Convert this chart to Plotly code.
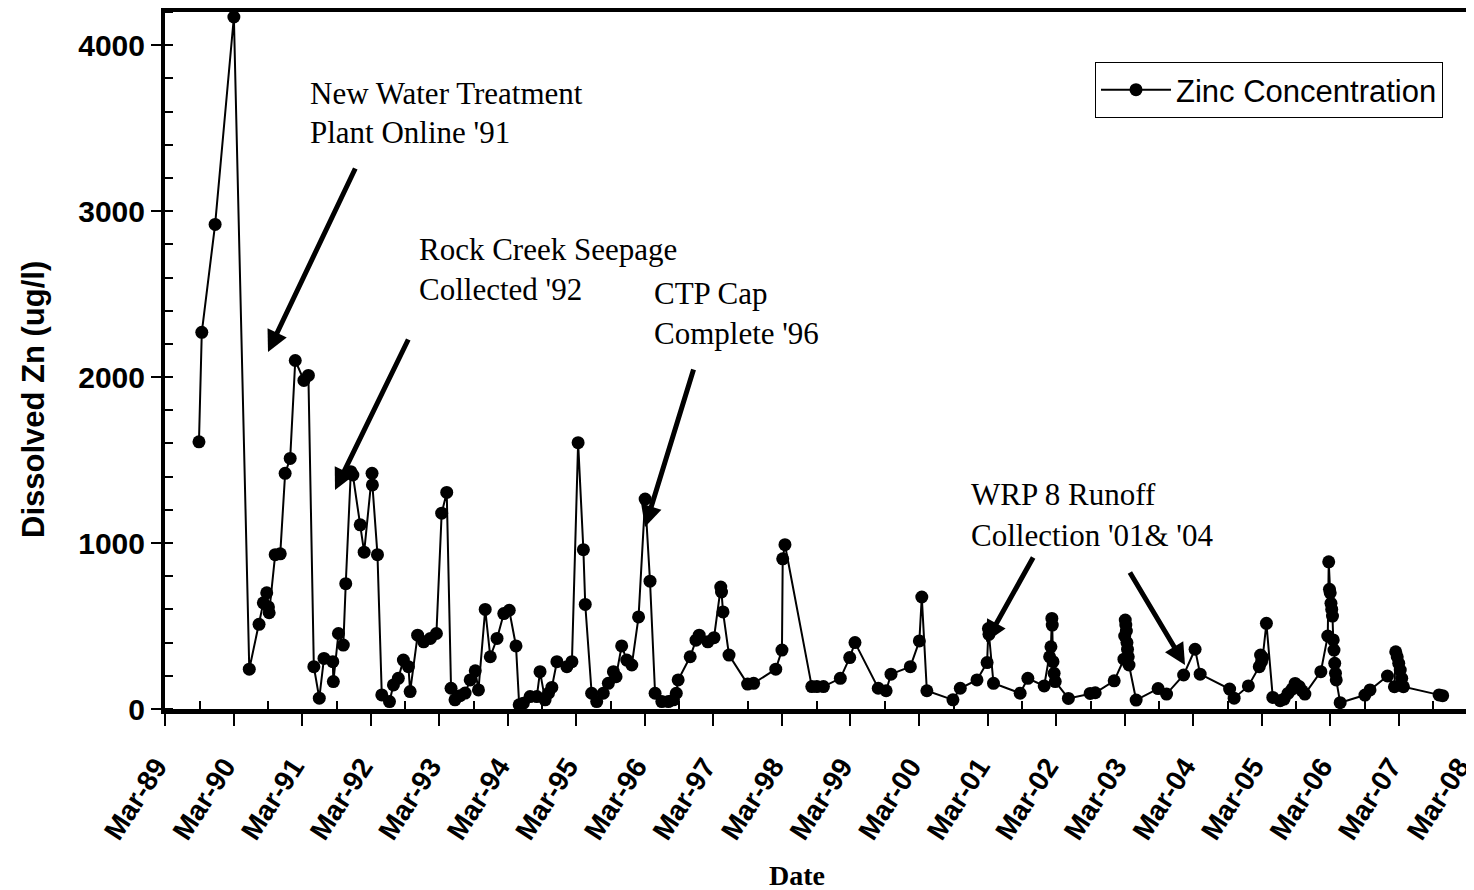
import plotly.graph_objects as go

sample_dates = [
"1989-08-29","1989-09-13","1989-11-23","1990-03-03","1990-05-24","1990-07-15","1990-08-07","1990-08-25","1990-09-03","1990-09-07",
"1990-10-09","1990-11-05","1990-12-01","1990-12-28","1991-01-24","1991-03-11","1991-04-04","1991-05-03","1991-06-01","1991-06-26",
"1991-08-12","1991-08-15","1991-09-11","1991-10-07","1991-10-20","1991-11-16","1991-11-27","1992-01-05","1992-01-26","1992-03-08",
"1992-03-10","1992-04-06","1992-04-29","1992-06-09","1992-06-30","1992-07-26","1992-08-22","1992-09-18","1992-09-27","1992-11-06",
"1992-12-08","1993-01-13","1993-02-14","1993-03-14","1993-04-10","1993-05-03","1993-05-24","1993-06-20","1993-07-17","1993-08-13",
"1993-09-09","1993-09-26","1993-11-01","1993-11-28","1994-01-03","1994-02-08","1994-03-09","1994-04-14","1994-05-01","1994-05-23",
"1994-06-28","1994-08-03","1994-08-20","1994-09-16","1994-10-04","1994-10-22","1994-11-18","1995-01-10","1995-02-06","1995-03-11",
"1995-04-08","1995-04-18","1995-05-22","1995-06-18","1995-07-23","1995-08-19","1995-09-15","1995-09-29","1995-10-29","1995-11-25",
"1995-12-22","1996-01-27","1996-03-02","1996-03-28","1996-04-24","1996-05-30","1996-07-04","1996-07-31","1996-08-15","1996-08-25",
"1996-10-28","1996-11-28","1996-12-15","1997-01-30","1997-03-04","1997-04-09","1997-04-13","1997-04-21","1997-05-23","1997-08-30",
"1997-10-01","1998-01-27","1998-03-01","1998-03-05","1998-03-17","1998-08-07","1998-09-03","1998-10-08","1999-01-06","1999-02-25",
"1999-03-25","1999-07-27","1999-09-07","1999-10-03","2000-01-14","2000-03-02","2000-03-15","2000-04-11","2000-08-28","2000-10-06",
"2001-01-03","2001-02-26","2001-03-05","2001-03-08","2001-04-01","2001-08-21","2001-10-01","2001-12-27","2002-01-25","2002-02-01",
"2002-02-06","2002-02-08","2002-02-12","2002-02-18","2002-02-24","2002-05-05","2002-08-29","2002-09-25","2003-01-04","2003-02-25",
"2003-03-01","2003-03-04","2003-03-07","2003-03-10","2003-03-13","2003-03-16","2003-03-20","2003-03-24","2003-05-01","2003-08-26",
"2003-10-10","2004-01-09","2004-03-10","2004-04-06","2004-09-10","2004-10-04","2004-12-19","2005-02-15","2005-02-22","2005-02-27",
"2005-03-05","2005-03-25","2005-04-28","2005-06-06","2005-06-27","2005-07-18","2005-08-09","2005-08-25","2005-09-16","2005-10-01",
"2005-10-16","2006-01-09","2006-02-15","2006-02-20","2006-02-24","2006-02-28","2006-03-04","2006-03-08","2006-03-12","2006-03-16",
"2006-03-20","2006-03-24","2006-03-28","2006-04-01","2006-04-22","2006-09-01","2006-09-28","2006-12-30","2007-02-05","2007-02-12",
"2007-02-20","2007-02-28","2007-03-08","2007-03-16","2007-03-25","2007-10-01","2007-10-20",
]

zinc_values = [
1610, 2270, 2920, 4170, 240, 510, 640, 700, 615, 580,
930, 935, 1420, 1510, 2100, 1980, 2010, 255, 65, 305,
285, 165, 455, 385, 755, 1430, 1410, 1110, 945, 1420,
1350, 930, 85, 45, 145, 185, 295, 255, 105, 445,
405, 425, 455, 1180, 1305, 125, 55, 80, 96, 175,
230, 115, 600, 315, 425, 575, 595, 380, 25, 35,
75, 75, 225, 55, 95, 130, 285, 255, 285, 1605,
960, 630, 95, 45, 95, 155, 225, 195, 380, 295,
265, 555, 1265, 770, 95, 45, 45, 55, 95, 175,
315, 415, 445, 405, 430, 735, 705, 585, 325, 150,
155, 240, 355, 905, 990, 135, 135, 135, 185, 310,
400, 125, 110, 210, 255, 410, 675, 110, 55, 125,
175, 280, 485, 450, 155, 95, 185, 139, 315, 375,
546, 506, 285, 215, 165, 64, 94, 98, 170, 300,
440, 536, 506, 470, 400, 360, 315, 265, 54, 123,
90, 205, 360, 210, 120, 65, 139, 255, 325, 285,
310, 516, 70, 50, 60, 94, 120, 154, 135, 110,
90, 225, 440, 887, 721, 700, 637, 600, 560, 416,
355, 275, 215, 175, 38, 84, 115, 199, 134, 345,
315, 275, 235, 185, 134, 85, 80,
]

tick_dates = ["%d-03-01" % y for y in range(1989, 2009)]
tick_labels = ["Mar-%02d" % (y % 100) for y in range(1989, 2009)]
minor_dates = ["%d-09-01" % y for y in range(1989, 2008)]

y_ticks = [0, 1000, 2000, 3000, 4000]

notes = [
    ("New Water Treatment", 308, 93),
    ("Plant Online '91", 308, 133),
    ("Rock Creek Seepage", 417, 249),
    ("Collected '92", 417, 290),
    ("CTP Cap", 652, 293),
    ("Complete '96", 652, 333),
    ("WRP 8 Runoff", 969, 494),
    ("Collection '01& '04", 969, 535),
]
# arrows: head pixel, tail pixel (page coordinates)
arrows = [
    ((268, 352), (356, 167)),
    ((335, 490), (409, 338)),
    ((645, 527), (694, 368)),
    ((986, 642), (1034, 556)),
    ((1185, 665), (1129, 571)),
]

# the page body has an 8px margin; the figure is sized to fill the rest
OFF = 8
W, H = 1474 - OFF, 890 - OFF
L, R, T, B = 165 - OFF, 0, 12 - OFF, 890 - 709
PW = W - L - R
PH = H - T - B

def px2paper(px, py):
    return (px - 165) / PW, (709 - py) / PH

fig = go.Figure()
fig.add_trace(go.Scatter(
    x=sample_dates, y=zinc_values, mode="lines+markers",
    name="Zinc Concentration",
    line=dict(color="black", width=2),
    marker=dict(color="black", size=13),
))

ann = []
for text, px, py in notes:
    x, y = px2paper(px, py)
    ann.append(dict(text=text, x=x, y=y, xref="paper", yref="paper",
                    xanchor="left", yanchor="middle", showarrow=False,
                    font=dict(family="Liberation Serif", size=31, color="black")))
for (hx, hy), (tx, ty) in arrows:
    x, y = px2paper(hx, hy)
    ann.append(dict(text="", x=x, y=y, xref="paper", yref="paper",
                    ax=tx - hx, ay=ty - hy, showarrow=True, arrowhead=2,
                    arrowsize=0.85, arrowwidth=5, arrowcolor="black", standoff=0))
x, y = px2paper(797, 876)
ann.append(dict(text="<b>Date</b>", x=x, y=y, xref="paper", yref="paper",
                xanchor="center", yanchor="middle", showarrow=False,
                font=dict(family="Liberation Serif", size=28, color="black")))
x, y = px2paper(33, 400)
ann.append(dict(text="<b>Dissolved Zn (ug/l)</b>", x=x, y=y, xref="paper", yref="paper",
                xanchor="center", yanchor="middle", showarrow=False, textangle=-90,
                font=dict(family="Liberation Sans", size=31, color="black")))

lx, ly = px2paper(1095, 62)
fig.update_layout(
    width=W, height=H,
    margin=dict(l=L, r=R, t=T, b=B, autoexpand=False),
    paper_bgcolor="white", plot_bgcolor="white",
    showlegend=True,
    legend=dict(x=lx, y=ly, xanchor="left", yanchor="top",
                bordercolor="black", borderwidth=1, bgcolor="white",
                font=dict(family="Liberation Sans", size=31, color="black"),
                itemwidth=70, tracegroupgap=0),
    annotations=ann,
    xaxis=dict(
        type="date", range=["1989-03-01", "2008-04-04"], automargin=False,
        tickmode="array", tickvals=tick_dates,
        ticktext=[t + "\u00a0\u00a0" for t in tick_labels],
        tickangle=-57, ticks="outside", ticklen=12, tickwidth=1.5, tickcolor="black",
        ticklabeloverflow="allow", ticklabelstandoff=0,
        tickfont=dict(family="Liberation Sans", size=28, color="black", weight="bold"),
        showline=True, linecolor="black", linewidth=5, mirror=True,
        showgrid=False, zeroline=False,
        minor=dict(tickmode="array", tickvals=minor_dates, ticks="inside",
                   ticklen=8, tickwidth=1.5, tickcolor="black", showgrid=False),
    ),
    yaxis=dict(
        range=[0, 4200], tickmode="array", tickvals=y_ticks, automargin=False,
        ticks="outside", ticklen=10, tickwidth=2, tickcolor="black",
        tickfont=dict(family="Liberation Sans", size=30, color="black", weight="bold"),
        showline=True, linecolor="black", linewidth=4,
        showgrid=False, zeroline=False,
        minor=dict(dtick=200, ticks="inside", ticklen=8, tickwidth=2,
                   tickcolor="black", showgrid=False),
    ),
)

fig.write_html("out.html")
